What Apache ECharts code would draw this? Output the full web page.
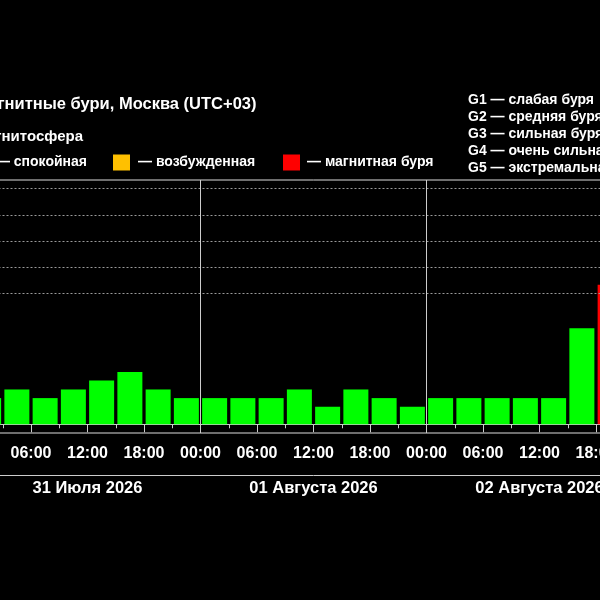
<!DOCTYPE html>
<html>
<head>
<meta charset="utf-8">
<script src="https://cdn.jsdelivr.net/npm/echarts@6/dist/echarts.min.js"></script>
<style>
html, body { margin: 0; background: #000; overflow: hidden; }
#wrap { position: relative; width: 600px; height: 600px; overflow: hidden; }
#chart { position: absolute; left: -100px; top: 0; width: 800px; height: 600px; }
</style>
</head>
<body>
<div id="wrap"><div id="chart"></div></div>
<script>
// дни и индекс Kp по трёхчасовым интервалам (00-03, 03-06, ... 21-24)
var days = ['31 Июля 2026', '01 Августа 2026', '02 Августа 2026'];
var kpJul31 = [1, 1.33, 1, 1.33, 1.67, 2, 1.33, 1];
var kpAug01 = [1, 1, 1, 1.33, 0.67, 1.33, 1, 0.67];
var kpAug02 = [1, 1, 1, 1, 1, 3.67, 5.33, 5];
var stormLevels = ['G1 — слабая буря', 'G2 — средняя буря', 'G3 — сильная буря',
	'G4 — очень сильная буря', 'G5 — экстремальная буря'];
var stormKp = [5, 6, 7, 8, 9];
var legendNames = ['— спокойная', '— возбужденная', '— магнитная буря'];
var legendColors = ['#00ff00', '#ffc000', '#ff0000'];

var FONT = '"Liberation Sans", Arial, sans-serif';
// график шире окна и сдвинут влево на OX
var OX = 100;

function kpColor(kp) {
	if (kp >= 5) return legendColors[2];
	if (kp >= 4) return legendColors[1];
	return legendColors[0];
}

// точки столбиков: центр интервала в часах от начала первого дня
var barData = [];
[kpJul31, kpAug01, kpAug02].forEach(function(list, d) {
	list.forEach(function(kp, i) {
		barData.push([d * 24 + i * 3 + 1.5, kp]);
	});
});

function pad(n) { return (n < 10 ? '0' : '') + n; }

function txt(t, x, y, align, size) {
	return { type: 'text', x: x + OX, y: y, style: { text: t, align: align, verticalAlign: 'middle', fill: '#fff', font: 'bold ' + size + 'px ' + FONT } };
}
function box(x, color) {
	return { type: 'rect', shape: { x: x + OX, y: 154.5, width: 17, height: 16 }, style: { fill: color } };
}

var graphics = [
	txt('Магнитные бури, Москва (UTC+03)', 256.5, 104, 'right', 16.5),
	txt('Магнитосфера', 83, 136.5, 'right', 15),
	box(-40, legendColors[0]),
	txt(legendNames[0], 87, 162, 'right', 14),
	box(113, legendColors[1]),
	txt(legendNames[1], 138, 162, 'left', 14),
	box(283, legendColors[2]),
	txt(legendNames[2], 307, 162, 'left', 14)
];
stormLevels.forEach(function(t, i) {
	graphics.push(txt(t, 468, 100 + i * 17.1, 'left', 14));
});

var myChart = echarts.init(document.getElementById('chart'));
var option = {
	backgroundColor: '#000',
	animation: false,
	graphic: graphics,
	grid: {
		left: OX - 25.5,
		width: 678,
		top: 180,
		bottom: 167,
		outerBoundsMode: 'none',
		containLabel: false,
		show: true,
		borderColor: '#ddd',
		borderWidth: 1
	},
	xAxis: [{
		type: 'value',
		min: 0,
		max: days.length * 24,
		interval: 6,
		axisLine: { lineStyle: { color: '#ccc', width: 1 } },
		axisTick: { length: 8, lineStyle: { color: '#ccc' } },
		minorTick: { show: true, splitNumber: 2, length: 4, lineStyle: { color: '#ccc' } },
		splitLine: { show: false },
		axisLabel: {
			color: '#fff',
			fontFamily: FONT,
			fontWeight: 'bold',
			fontSize: 16,
			margin: 12.5,
			formatter: function(v) { return pad(v % 24) + ':00'; }
		}
	}, {
		type: 'category',
		data: days,
		position: 'bottom',
		offset: 42,
		axisLine: { lineStyle: { color: '#ccc', width: 1 } },
		axisTick: { inside: true, length: 8, lineStyle: { color: '#ccc' } },
		splitLine: { show: false },
		axisLabel: {
			color: '#fff',
			fontFamily: FONT,
			fontWeight: 'bold',
			fontSize: 16.5,
			margin: 4.5
		}
	}],
	yAxis: {
		type: 'value',
		min: -1 / 3,
		max: 28 / 3,
		show: false
	},
	series: [{
		// пунктир уровней G1..G5 и границы суток, под столбиками
		type: 'line',
		data: [],
		z: 1,
		markLine: {
			silent: true,
			symbol: 'none',
			label: { show: false },
			data: stormKp.map(function(v) {
				return { yAxis: v, lineStyle: { color: '#999', type: [2, 2], width: 1 } };
			}).concat([24, 48].map(function(v) {
				return { xAxis: v, lineStyle: { color: '#ccc', type: 'solid', width: 1 } };
			}))
		}
	}, {
		type: 'bar',
		data: barData,
		barWidth: 25,
		z: 2,
		itemStyle: {
			color: function(p) { return kpColor(p.value[1]); }
		}
	}]
};
myChart.setOption(option);
</script>
</body>
</html>
